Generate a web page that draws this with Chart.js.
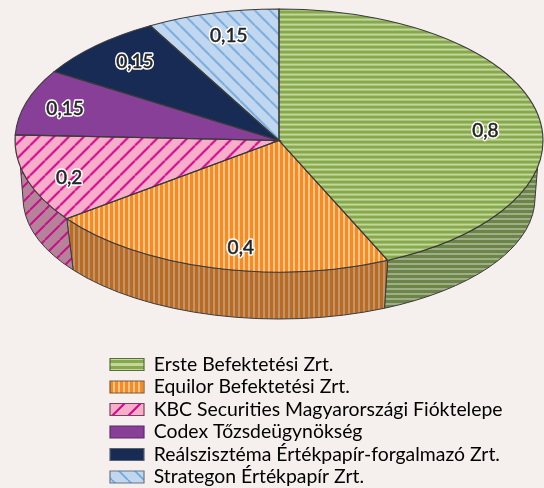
<!DOCTYPE html>
<html><head><meta charset="utf-8">
<style>html,body{margin:0;padding:0;background:#f5efed}canvas{display:block}</style>
<script src="https://cdn.jsdelivr.net/npm/chart.js@4"></script>
</head><body><canvas id="c" width="544" height="488"></canvas>
<script>
const categories = ['Erste Befektetési Zrt.','Equilor Befektetési Zrt.','KBC Securities Magyarországi Fióktelepe','Codex Tőzsdeügynökség','Reálszisztéma Értékpapír-forgalmazó Zrt.','Strategon Értékpapír Zrt.'];
const values = [0.8,0.4,0.2,0.15,0.15,0.15];
const labelOffsets = [[0,13],[15,6],[-8,7],[-12,-1],[2,-3],[3,-3]];

function tile(w,h,bg,draw){const c=document.createElement('canvas');c.width=w;c.height=h;const x=c.getContext('2d');x.fillStyle=bg;x.fillRect(0,0,w,h);if(draw)draw(x);return c;}
function hStripes(bg,fg,p,t){return tile(4,p,bg,x=>{x.fillStyle=fg;x.fillRect(0,0,4,t);});}
function vStripes(bg,fg,p,t){return tile(p,4,bg,x=>{x.fillStyle=fg;x.fillRect(0,0,t,4);});}
function diag(bg,fg,p,t,up){return tile(p,p,bg,x=>{x.strokeStyle=fg;x.lineWidth=t;x.beginPath();
 for(let i=-1;i<=1;i++){if(up){x.moveTo(i*p,p);x.lineTo(i*p+p,0);}else{x.moveTo(i*p,0);x.lineTo(i*p+p,p);}}x.stroke();});}
const c=document.getElementById('c'),g=c.getContext('2d');
const pat=t=>g.createPattern(t,'repeat');
const topTiles=[hStripes('#c3d69b','#86a94b',5,3),vStripes('#fdc78e','#f98a22',5,3),diag('#f7aecb','#d5058d',15,2,true),tile(2,2,'#873f97'),tile(2,2,'#172b54'),diag('#c1d7ef','#6fa8dc',15,1.7,false)];
const wallTiles=[hStripes('#9fae87','#6b8447',5,3),vStripes('#bd9670','#bb6a20',5,3),diag('#b6829a','#c8108a',15,2,true),tile(2,2,'#6a3076'),tile(2,2,'#11203f'),diag('#90a1b3','#5380a6',15,1.7,false)];
const legendTiles=[hStripes('#c3d69b','#86a94b',6,3),vStripes('#fdc78e','#f98a22',5,3),diag('#f7aecb','#d5058d',16,2,true),tile(2,2,'#873f97'),tile(2,2,'#172b54'),diag('#c1d7ef','#6fa8dc',16,1.7,false)];
const legendBorders=['#5a6b3c','#7a5a3a','#7a4060','#5e2a6a','#5a6070','#6d7480'];

const CX=279,CY=140.5,RX=264,RY=131.5,BY=198,BRX=256,BRY=121;
const T0=11.6*Math.PI/180,B0=4*Math.PI/180;
const clamp=(v,a,b)=>Math.min(b,Math.max(a,v));
const threeD={id:'threeD',
 afterLayout(ch){const l=ch.legend;l.left=106.9;l.top=351.7;l.right=540;l.bottom=900;},
 beforeDatasetsDraw(ch){
  const ctx=ch.ctx,arcs=ch.getDatasetMeta(0).data;
  ctx.save();ctx.lineWidth=1;ctx.strokeStyle='#3b3b3b';
  arcs.forEach((a,i)=>{
   const s=a.startAngle,e=a.endAngle;
   const pieces=[[s,e],[s-2*Math.PI,e-2*Math.PI]];
   pieces.forEach(([p,q])=>{
    if(q<=T0||p>=Math.PI-T0)return;
    const a1=clamp(p,T0,Math.PI-T0),a2=clamp(q,T0,Math.PI-T0);
    const b1=clamp(p,B0,Math.PI-B0),b2=clamp(q,B0,Math.PI-B0);
    ctx.beginPath();
    ctx.ellipse(CX,CY,RX,RY,0,a1,a2);
    ctx.ellipse(CX,BY,BRX,BRY,0,b2,b1,true);
    ctx.closePath();
    ctx.fillStyle=pat(wallTiles[i]);ctx.fill();ctx.stroke();
   });
  });
  ctx.restore();
  ctx.save();
  ctx.translate(CX,CY);ctx.scale(1,RY/RX);ctx.translate(-CX,-CY);
  const m=new DOMMatrix().scale(1,RX/RY);
  arcs.forEach(a=>{const f=a.options.backgroundColor;if(f&&f.setTransform)f.setTransform(m);});
 },
 afterDatasetsDraw(ch){
  const ctx=ch.ctx,arcs=ch.getDatasetMeta(0).data;
  ctx.restore();
  ctx.save();ctx.lineWidth=1.1;ctx.strokeStyle='#3b3b3b';
  arcs.forEach(a=>{
   ctx.beginPath();ctx.moveTo(CX,CY);
   ctx.ellipse(CX,CY,RX,RY,0,a.startAngle,a.endAngle);
   ctx.closePath();ctx.stroke();
  });
  ctx.font='19px Lato';ctx.textAlign='center';ctx.textBaseline='middle';ctx.lineJoin='round';
  arcs.forEach((a,i)=>{
   const mid=(a.startAngle+a.endAngle)/2,k=0.8;
   const x=CX+Math.cos(mid)*RX*k+labelOffsets[i][0],y=CY+Math.sin(mid)*RY*k+labelOffsets[i][1];
   const t=String(values[i]).replace('.',',');
   ctx.strokeStyle='#fff';ctx.lineWidth=3.5;ctx.strokeText(t,x,y);
   ctx.fillStyle='#262626';ctx.fillText(t,x,y);
   ctx.strokeStyle='#262626';ctx.lineWidth=0.5;ctx.strokeText(t,x,y);
  });
  ctx.restore();
 }
};
new Chart(c,{type:'pie',
 data:{labels:categories,datasets:[{data:values,backgroundColor:topTiles.map(pat),borderWidth:0}]},
 options:{responsive:false,animation:false,rotation:0,radius:RX,
  layout:{padding:{left:14,right:0,top:0,bottom:207}},
  plugins:{tooltip:{enabled:false},
   legend:{position:'chartArea',align:'start',
    labels:{color:'#2b2b2b',font:{family:'Lato',size:19.4},boxWidth:34,boxHeight:12,padding:3.1,
     generateLabels:()=>categories.map((t,i)=>({text:t,fillStyle:pat(legendTiles[i]),strokeStyle:legendBorders[i],lineWidth:1.2,index:i,hidden:false}))}}}},
 plugins:[threeD]});
</script></body></html>
